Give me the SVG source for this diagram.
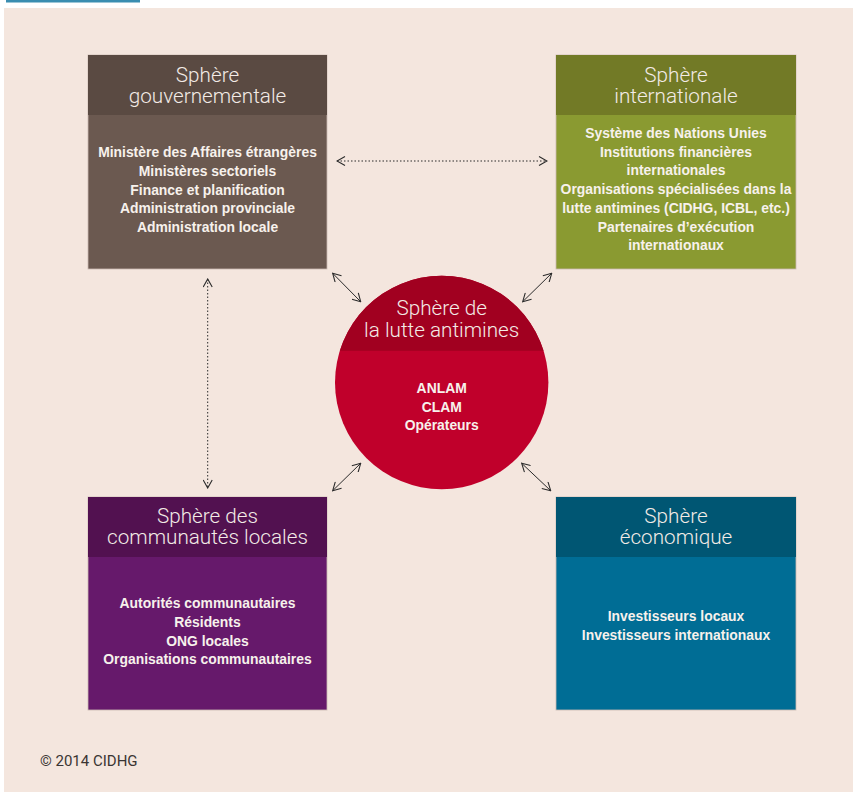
<svg xmlns="http://www.w3.org/2000/svg" width="853" height="792" viewBox="0 0 853 792">
<defs>
<style>
.hd{font-family:Roboto,"Liberation Sans",sans-serif;font-weight:300;font-size:20.7px;fill:#f3ebe6;text-anchor:middle}
.bd{font-family:"Liberation Sans",Arial,sans-serif;font-weight:bold;font-size:13.9px;fill:#f7f1ec;text-anchor:middle}
.con{fill:none;stroke:#2a2a2a;stroke-width:1}
.dot{stroke-dasharray:1.5 2}
.box{stroke:#cbbab2;stroke-width:0.8}
</style>
<marker id="ah" viewBox="0 0 10 10" refX="9" refY="5" markerWidth="10" markerHeight="10" markerUnits="userSpaceOnUse" orient="auto-start-reverse">
<path d="M1,0.5 L9,5 L1,9.5" fill="none" stroke="#2a2a2a" stroke-width="1.1"/>
</marker>
<clipPath id="ctop"><rect x="330" y="270" width="225" height="80.7"/></clipPath>
</defs>
<rect x="0" y="0" width="853" height="792" fill="#ffffff"/>
<rect x="6" y="0" width="134" height="2.5" fill="#3a8db0"/>
<rect x="4" y="8" width="849" height="784" fill="#f4e6de"/>

<g id="gouv">
<rect class="box" x="88" y="55" width="239" height="214" fill="#6b5950"/>
<rect x="88" y="55" width="239" height="60" fill="#5a4a42"/>
<text class="hd" x="207.5" y="81.7">Sphère</text>
<text class="hd" x="207.5" y="103">gouvernementale</text>
<text class="bd" x="207.5" y="157.3">Ministère des Affaires étrangères</text>
<text class="bd" x="207.5" y="176">Ministères sectoriels</text>
<text class="bd" x="207.5" y="194.7">Finance et planification</text>
<text class="bd" x="207.5" y="213.3">Administration provinciale</text>
<text class="bd" x="207.5" y="231.7">Administration locale</text>
</g>

<g id="inter">
<rect class="box" x="556" y="55" width="240" height="214" fill="#8a9a31"/>
<rect x="556" y="55" width="240" height="60" fill="#727a26"/>
<text class="hd" x="676" y="81.7">Sphère</text>
<text class="hd" x="676" y="103">internationale</text>
<text class="bd" x="676" y="138.3">Système des Nations Unies</text>
<text class="bd" x="676" y="156.7">Institutions financières</text>
<text class="bd" x="676" y="175">internationales</text>
<text class="bd" x="676" y="194">Organisations spécialisées dans la</text>
<text class="bd" x="676" y="213.3">lutte antimines (CIDHG, ICBL, etc.)</text>
<text class="bd" x="676" y="231.7">Partenaires d’exécution</text>
<text class="bd" x="676" y="250">internationaux</text>
</g>

<g id="commun">
<rect class="box" x="88" y="497" width="239" height="213" fill="#66196b"/>
<rect x="88" y="497" width="239" height="60" fill="#521150"/>
<text class="hd" x="207.5" y="523.3">Sphère des</text>
<text class="hd" x="207.5" y="544.3">communautés locales</text>
<text class="bd" x="207.5" y="608.3">Autorités communautaires</text>
<text class="bd" x="207.5" y="626.7">Résidents</text>
<text class="bd" x="207.5" y="645.7">ONG locales</text>
<text class="bd" x="207.5" y="664">Organisations communautaires</text>
</g>

<g id="econ">
<rect class="box" x="556" y="497" width="240" height="213" fill="#006d95"/>
<rect x="556" y="497" width="240" height="60" fill="#005673"/>
<text class="hd" x="676" y="523.3">Sphère</text>
<text class="hd" x="676" y="544.3">économique</text>
<text class="bd" x="676" y="620.7">Investisseurs locaux</text>
<text class="bd" x="676" y="640">Investisseurs internationaux</text>
</g>

<g id="antimines">
<circle cx="441.7" cy="382.5" r="106.7" fill="#c0002b"/>
<circle cx="441.7" cy="382.5" r="106.7" fill="#a10020" clip-path="url(#ctop)"/>
<text class="hd" x="441.7" y="315">Sphère de</text>
<text class="hd" x="441.7" y="337">la lutte antimines</text>
<text class="bd" x="441.7" y="392.7">ANLAM</text>
<text class="bd" x="441.7" y="411.7">CLAM</text>
<text class="bd" x="441.7" y="429.5">Opérateurs</text>
</g>

<g id="connectors">
<line class="con dot" x1="337" y1="161" x2="547" y2="161" marker-start="url(#ah)" marker-end="url(#ah)"/>
<line class="con dot" x1="207.7" y1="279" x2="207.7" y2="488" marker-start="url(#ah)" marker-end="url(#ah)"/>
<line class="con" x1="332.7" y1="273.3" x2="360.7" y2="301.7" marker-start="url(#ah)" marker-end="url(#ah)"/>
<line class="con" x1="551.7" y1="273.3" x2="522.7" y2="301.7" marker-start="url(#ah)" marker-end="url(#ah)"/>
<line class="con" x1="360.7" y1="463.3" x2="332.7" y2="490.7" marker-start="url(#ah)" marker-end="url(#ah)"/>
<line class="con" x1="521.7" y1="463.3" x2="550.7" y2="490.7" marker-start="url(#ah)" marker-end="url(#ah)"/>
</g>

<text x="40" y="765.7" font-family="Roboto,'Liberation Sans',sans-serif" font-size="15" fill="#3a3533">© 2014 CIDHG</text>
</svg>
